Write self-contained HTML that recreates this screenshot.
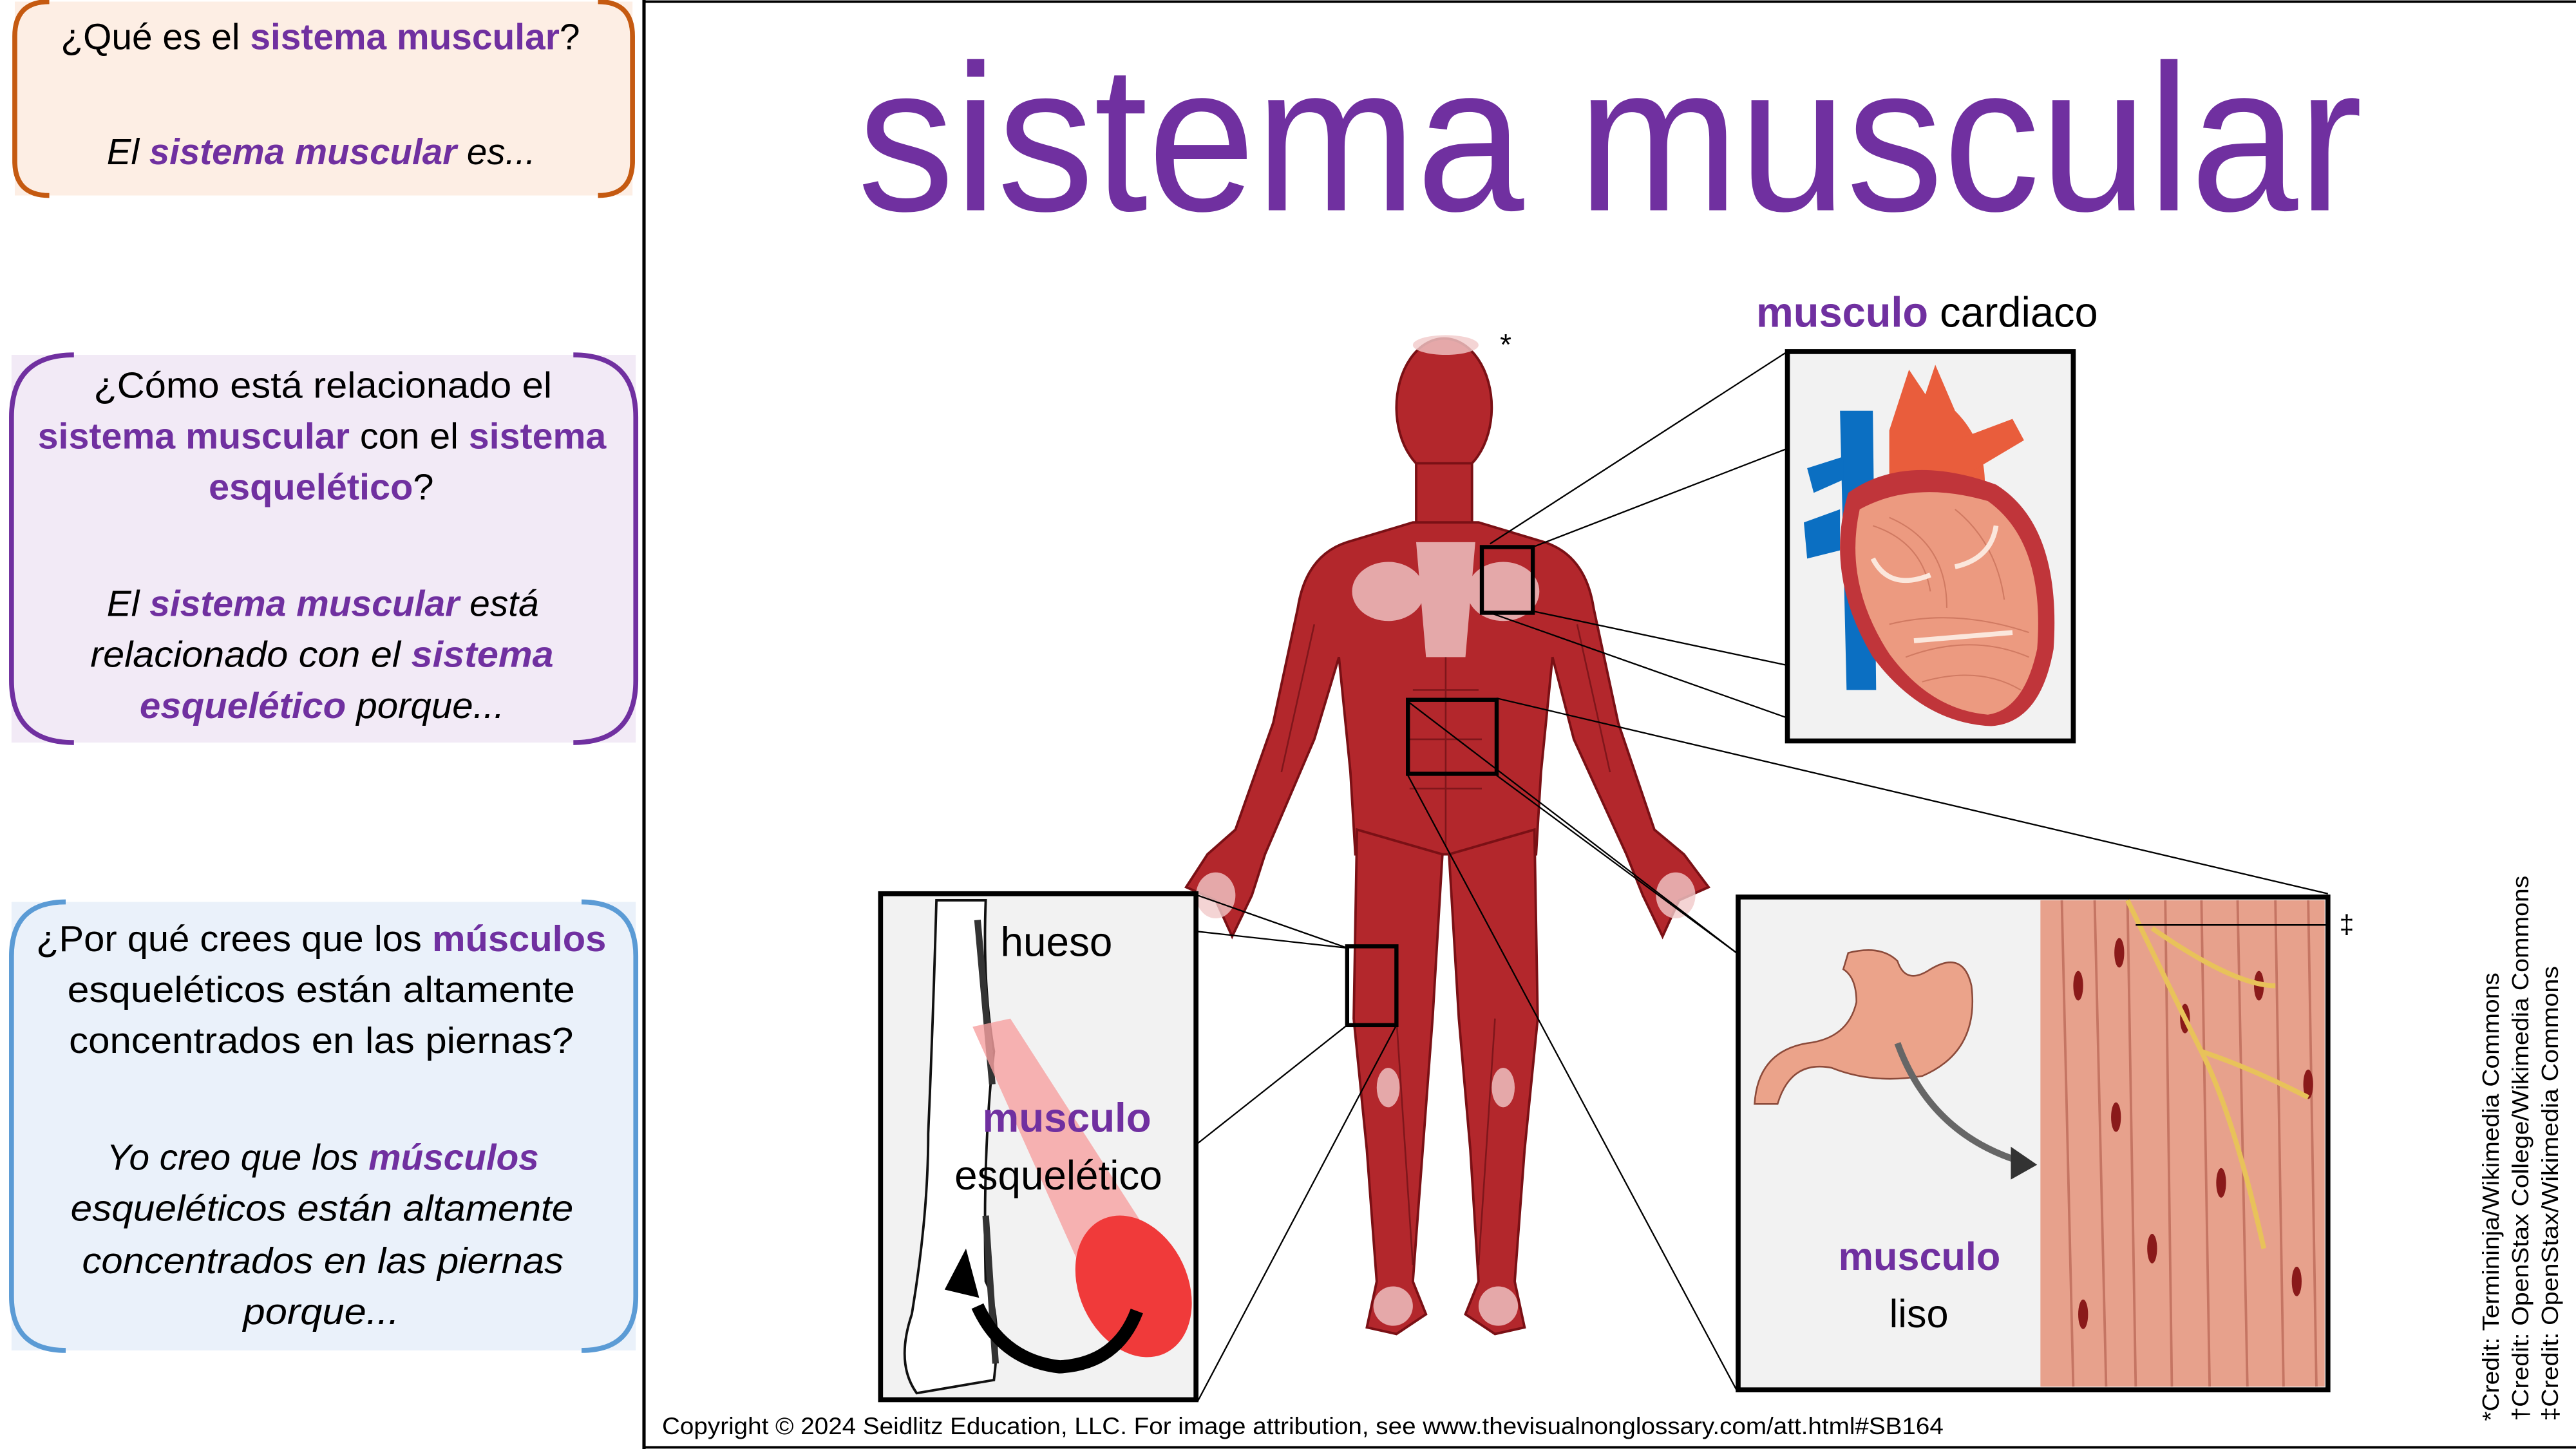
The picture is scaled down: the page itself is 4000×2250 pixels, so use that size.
<!DOCTYPE html>
<html><head><meta charset="utf-8"><style>
html,body{margin:0;padding:0;background:#fff;width:4000px;height:2250px;overflow:hidden}
svg{display:block}
text{font-family:"Liberation Sans",sans-serif}
.p{fill:#7030a0;font-weight:bold}
</style></head><body>
<svg width="4000" height="2250" viewBox="0 0 1568 882" preserveAspectRatio="none" xmlns="http://www.w3.org/2000/svg">
<rect width="1568" height="882" fill="#fff"/>
<!-- left boxes -->
<rect x="9" y="1" width="376" height="118" fill="#fdeee4"/>
<path d="M30,1 Q9,1 9,22 L9,98 Q9,119 30,119 M364,1 Q385,1 385,22 L385,98 Q385,119 364,119" fill="none" stroke="#c55a11" stroke-width="3"/>
<rect x="7" y="216" width="380" height="236" fill="#f2eaf6"/>
<path d="M45,216 Q7,216 7,254 L7,414 Q7,452 45,452 M349,216 Q387,216 387,254 L387,414 Q387,452 349,452" fill="none" stroke="#7030a0" stroke-width="3"/>
<rect x="7" y="549" width="380" height="273" fill="#eaf1fa"/>
<path d="M40,549 Q7,549 7,582 L7,789 Q7,822 40,822 M354,549 Q387,549 387,582 L387,789 Q387,822 354,822" fill="none" stroke="#5b9bd5" stroke-width="3"/>

<g font-size="22">
<text x="37" y="30" textLength="316" lengthAdjust="spacingAndGlyphs">¿Qué es el <tspan class="p">sistema muscular</tspan>?</text>
<text x="65" y="100" textLength="261" lengthAdjust="spacingAndGlyphs" font-style="italic">El <tspan class="p">sistema muscular</tspan> es...</text>

<text x="57" y="242" textLength="279" lengthAdjust="spacingAndGlyphs">¿Cómo está relacionado el</text>
<text x="23" y="273" textLength="346" lengthAdjust="spacingAndGlyphs"><tspan class="p">sistema muscular</tspan> con el <tspan class="p">sistema</tspan></text>
<text x="127" y="304" textLength="137" lengthAdjust="spacingAndGlyphs"><tspan class="p">esquelético</tspan>?</text>
<text x="65" y="375" textLength="263" lengthAdjust="spacingAndGlyphs" font-style="italic">El <tspan class="p">sistema muscular</tspan> está</text>
<text x="55" y="406" textLength="282" lengthAdjust="spacingAndGlyphs" font-style="italic">relacionado con el <tspan class="p">sistema</tspan></text>
<text x="85" y="437" textLength="222" lengthAdjust="spacingAndGlyphs" font-style="italic"><tspan class="p">esquelético</tspan> porque...</text>

<text x="22" y="579" textLength="347" lengthAdjust="spacingAndGlyphs">¿Por qué crees que los <tspan class="p">músculos</tspan></text>
<text x="41" y="610" textLength="309" lengthAdjust="spacingAndGlyphs">esqueléticos están altamente</text>
<text x="42" y="641" textLength="307" lengthAdjust="spacingAndGlyphs">concentrados en las piernas?</text>
<text x="65" y="712" textLength="263" lengthAdjust="spacingAndGlyphs" font-style="italic">Yo creo que los <tspan class="p">músculos</tspan></text>
<text x="43" y="743" textLength="306" lengthAdjust="spacingAndGlyphs" font-style="italic">esqueléticos están altamente</text>
<text x="50" y="775" textLength="293" lengthAdjust="spacingAndGlyphs" font-style="italic">concentrados en las piernas</text>
<text x="148" y="806" textLength="95" lengthAdjust="spacingAndGlyphs" font-style="italic">porque...</text>
</g>

<!-- main frame -->
<line x1="392" y1="0" x2="392" y2="882" stroke="#000" stroke-width="2"/>
<line x1="392" y1="1" x2="1568" y2="1" stroke="#000" stroke-width="1.5"/>
<line x1="392" y1="881" x2="1568" y2="881" stroke="#000" stroke-width="1.5"/>

<text x="522" y="128" font-size="127" fill="#7030a0" textLength="916" lengthAdjust="spacingAndGlyphs">sistema muscular</text>

<text x="1069" y="199" font-size="26" textLength="208" lengthAdjust="spacingAndGlyphs"><tspan class="p">musculo</tspan> cardiaco</text>
<text x="913" y="216" font-size="18">*</text>
<text x="1213" y="242" font-size="16">†</text>
<text x="1424" y="568" font-size="16">‡</text>

<!-- body -->
<g fill="#b3272c" stroke="#7a1015" stroke-width="1.5">
<ellipse cx="879" cy="248" rx="29" ry="42"/>
<rect x="862" y="282" width="34" height="42"/>
<path d="M860,318 L820,330 Q795,338 790,370 L775,440 L752,505 L735,520 L722,540 L740,548 L750,570 L762,545 L770,520 L800,450 L815,400 L822,470 L825,520 L935,520 L938,470 L945,400 L958,450 L990,520 L1000,545 L1012,570 L1022,548 L1040,540 L1025,520 L1007,505 L985,440 L970,370 Q965,338 940,330 L900,318 Z"/>
<path d="M826,505 L878,520 L872,620 L866,700 L860,780 L868,800 L850,812 L832,808 L838,780 L832,700 L824,620 Z"/>
<path d="M934,505 L882,520 L888,620 L895,700 L900,780 L892,800 L910,812 L928,808 L922,780 L928,700 L936,620 Z"/>
</g>
<g fill="#f1c9c9" opacity="0.8">
<path d="M862,330 L898,330 L892,400 L868,400 Z"/>
<ellipse cx="845" cy="360" rx="22" ry="18"/><ellipse cx="915" cy="360" rx="22" ry="18"/>
<ellipse cx="845" cy="662" rx="7" ry="12"/><ellipse cx="915" cy="662" rx="7" ry="12"/>
<ellipse cx="740" cy="545" rx="12" ry="14"/><ellipse cx="1020" cy="545" rx="12" ry="14"/>
<ellipse cx="848" cy="795" rx="12" ry="12"/><ellipse cx="912" cy="795" rx="12" ry="12"/>
<ellipse cx="880" cy="210" rx="20" ry="6"/>
</g>
<g stroke="#6a0f14" stroke-width="1" fill="none" opacity="0.7">
<path d="M880,400 L880,515 M860,420 L900,420 M858,450 L902,450 M858,480 L902,480 M850,620 L860,770 M910,620 L900,770 M800,380 L780,470 M960,380 L980,470"/>
</g>

<!-- highlight boxes -->
<g fill="none" stroke="#000" stroke-width="2.5">
<rect x="902" y="333" width="31" height="40"/>
<rect x="857" y="426" width="54" height="45"/>
<rect x="820" y="576" width="30" height="48"/>
</g>
<!-- connectors -->
<g stroke="#000" stroke-width="0.9">
<line x1="907" y1="331" x2="1088" y2="214"/>
<line x1="933" y1="333" x2="1088" y2="273"/>
<line x1="933" y1="372" x2="1088" y2="405"/>
<line x1="907" y1="373" x2="1088" y2="437"/>
<line x1="911" y1="425" x2="1417" y2="544"/>
<line x1="857" y1="427" x2="1057" y2="580"/>
<line x1="911" y1="472" x2="1057" y2="580"/>
<line x1="857" y1="472" x2="1057" y2="846"/>
<line x1="729" y1="545" x2="820" y2="577"/>
<line x1="729" y1="567" x2="820" y2="577"/>
<line x1="820" y1="624" x2="729" y2="696"/>
<line x1="850" y1="624" x2="729" y2="853"/>
</g>

<!-- heart box -->
<rect x="1088" y="214" width="174" height="237" fill="#f2f2f2" stroke="#000" stroke-width="3"/>
<path d="M1120,250 L1140,250 L1142,420 L1124,420 Z" fill="#0b6fc2"/>
<path d="M1100,285 L1122,278 L1122,292 L1104,300 Z M1098,318 L1120,310 L1120,335 L1100,340 Z" fill="#0b6fc2"/>
<path d="M1150,262 L1162,225 L1172,240 L1178,222 L1190,250 Q1210,270 1208,300 L1150,300 Z" fill="#e95d3c"/>
<path d="M1185,270 L1225,255 L1232,268 L1195,290 Z" fill="#e95d3c"/>
<path d="M1125,300 Q1160,275 1215,295 Q1255,320 1250,395 Q1242,440 1212,442 Q1170,440 1140,400 Q1110,350 1125,300 Z" fill="#c0353a"/>
<path d="M1132,310 Q1165,292 1210,305 Q1245,330 1240,395 Q1232,432 1210,435 Q1175,432 1150,398 Q1122,355 1132,310 Z" fill="#ec9a80"/>
<g stroke="#d07a62" stroke-width="0.8" fill="none">
<path d="M1140,320 Q1170,330 1175,360 M1150,315 Q1185,330 1185,370 M1190,310 Q1215,330 1220,365 M1150,380 Q1190,370 1235,385 M1160,400 Q1200,385 1235,400 M1170,415 Q1205,405 1230,420"/>
</g>
<g stroke="#fbe7dc" stroke-width="3" fill="none"><path d="M1140,340 Q1150,360 1175,350 M1215,320 Q1212,340 1190,345 M1165,390 L1225,385"/></g>

<!-- smooth box -->
<rect x="1058" y="546" width="359" height="300" fill="#f2f2f2" stroke="#000" stroke-width="3"/>
<rect x="1242" y="548" width="173" height="296" fill="#e7a18c"/>
<g stroke="#c57563" stroke-width="1.5" fill="none">
<path d="M1255,548 L1262,844 M1275,548 L1282,844 M1295,548 L1300,844 M1318,548 L1322,844 M1340,548 L1345,844 M1362,548 L1368,844 M1385,548 L1390,844 M1405,548 L1410,844"/>
</g>
<g fill="#8a1a1a">
<ellipse cx="1265" cy="600" rx="3" ry="9"/><ellipse cx="1288" cy="680" rx="3" ry="9"/><ellipse cx="1310" cy="760" rx="3" ry="9"/><ellipse cx="1330" cy="620" rx="3" ry="9"/><ellipse cx="1352" cy="720" rx="3" ry="9"/><ellipse cx="1375" cy="600" rx="3" ry="9"/><ellipse cx="1398" cy="780" rx="3" ry="9"/><ellipse cx="1268" cy="800" rx="3" ry="9"/><ellipse cx="1405" cy="660" rx="3" ry="9"/><ellipse cx="1290" cy="580" rx="3" ry="9"/>
</g>
<path d="M1295,548 Q1320,600 1340,640 Q1360,680 1378,760 M1340,640 Q1370,650 1405,668 M1310,565 Q1360,600 1385,600" stroke="#e8c25a" stroke-width="3" fill="none"/>
<line x1="1300" y1="563" x2="1417" y2="563" stroke="#000" stroke-width="1"/>
<path d="M1125,580 Q1145,575 1155,585 Q1160,600 1175,590 Q1195,578 1200,600 Q1205,640 1170,655 Q1140,660 1115,650 Q1090,645 1082,672 L1068,672 Q1070,640 1100,635 Q1125,632 1130,610 Q1130,595 1122,590 Z" fill="#eba38a" stroke="#8b4a3a" stroke-width="1"/>
<path d="M1155,635 Q1175,690 1230,707" stroke="#666" stroke-width="4" fill="none"/>
<path d="M1224,698 L1240,709 L1224,718 Z" fill="#333"/>
<text x="1119" y="773" font-size="24" class="p">musculo</text>
<text x="1150" y="808" font-size="24">liso</text>

<!-- skeletal box -->
<rect x="536" y="544" width="192" height="308" fill="#f2f2f2" stroke="#000" stroke-width="3"/>
<path d="M570,548 L600,548 Q598,600 605,640 Q598,700 600,780 Q610,800 605,840 L558,848 Q545,830 555,800 Q565,740 565,690 Q568,620 570,548 Z" fill="#fff" stroke="#111" stroke-width="1.5"/>
<path d="M595,560 L604,660 M600,740 L606,830" stroke="#333" stroke-width="4"/>
<path d="M592,625 L615,620 L705,760 L675,810 Z" fill="#f6a0a0" opacity="0.8"/>
<ellipse cx="690" cy="783" rx="33" ry="45" fill="#f03a3a" transform="rotate(-25 690 783)"/>
<path d="M752,798 Q740,830 705,832 Q670,828 655,795" stroke="#000" stroke-width="8" fill="none" transform="translate(-60,0)"/>
<path d="M582,785 L595,760 L603,790 Z" fill="#000" transform="translate(-7,0)"/>
<text x="609" y="582" font-size="25">hueso</text>
<text x="598" y="689" font-size="25" class="p">musculo</text>
<text x="581" y="724" font-size="25">esquelético</text>

<!-- copyright -->
<text x="403" y="873" font-size="14.5" textLength="780" lengthAdjust="spacingAndGlyphs">Copyright © 2024 Seidlitz Education, LLC.  For image attribution, see www.thevisualnonglossary.com/att.html#SB164</text>

<!-- credits -->
<g font-size="14">
<text transform="translate(1521,865) rotate(-90)" textLength="273" lengthAdjust="spacingAndGlyphs">*Credit: Termininja/Wikimedia Commons</text>
<text transform="translate(1539,865) rotate(-90)" textLength="332" lengthAdjust="spacingAndGlyphs">†Credit: OpenStax College/Wikimedia Commons</text>
<text transform="translate(1557,865) rotate(-90)" textLength="277" lengthAdjust="spacingAndGlyphs">‡Credit: OpenStax/Wikimedia Commons</text>
</g>
</svg>
</body></html>
